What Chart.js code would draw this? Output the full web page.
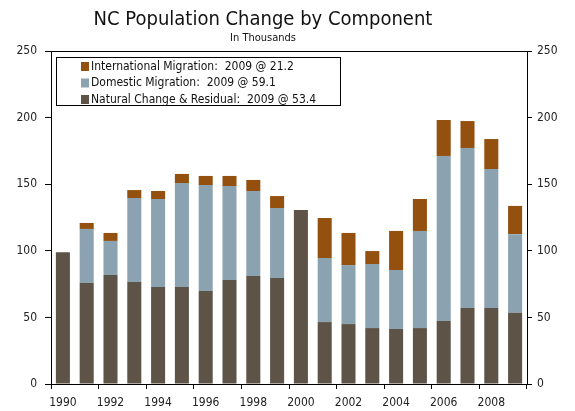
<!DOCTYPE html>
<html lang="en">
<head>
    <meta charset="UTF-8">
    <title>NC Population Change by Component</title>
    <script src="https://cdn.jsdelivr.net/npm/chart.js"></script>
    <style>
        html, body { margin: 0; padding: 0; background: #fff; }
        #wrap { width: 575px; height: 411px; }
    </style>
</head>
<body>
    <div id="wrap"><canvas id="popChart" width="575" height="411"></canvas></div>

    <script>
        // Datos (miles de personas)
        const years = ['1990','1991','1992','1993','1994','1995','1996','1997','1998','1999',
                       '2000','2001','2002','2003','2004','2005','2006','2007','2008','2009'];
        const natural = [99.0, 75.8, 81.8, 76.6, 72.8, 72.8, 69.8, 78.1, 81.1, 79.6,
                         130.6, 46.5, 45.0, 42.0, 41.3, 42.0, 47.3, 57.1, 57.1, 53.4];
        const domestic = [0, 40.6, 25.6, 63.0, 66.1, 78.1, 79.6, 70.5, 63.8, 52.5,
                          0, 48.1, 44.3, 48.1, 44.3, 72.9, 123.9, 120.1, 104.3, 59.1];
        const intl = [0, 4.5, 6.0, 6.0, 6.0, 6.8, 6.8, 7.6, 8.3, 9.0,
                      0, 30.0, 24.1, 9.7, 29.3, 24.0, 27.0, 20.2, 22.5, 21.2];
        const yTicks = [0, 50, 100, 150, 200, 250];

        const FONT = '"DejaVu Sans Condensed", "DejaVu Sans", sans-serif';
        const last = years.length - 1;

        // titulo, marco y leyenda dibujados a mano
        const extras = {
            id: 'extras',
            afterDraw(chart) {
                const c = chart.ctx;
                const a = chart.chartArea;
                c.save();
                c.fillStyle = '#111';
                c.textAlign = 'center';
                c.textBaseline = 'alphabetic';
                c.font = '20px ' + FONT;
                c.fillText('NC Population Change by Component', 263, 25);
                c.font = '11px ' + FONT;
                c.fillText('In Thousands', 263, 40.5);

                c.strokeStyle = '#000';
                c.lineWidth = 1;
                c.strokeRect(Math.round(a.left) + 0.5, Math.round(a.top) + 0.5,
                             Math.round(a.right - a.left), Math.round(a.bottom - a.top));

                // leyenda
                c.fillStyle = '#fff';
                c.fillRect(56.5, 57.5, 284, 48);
                c.strokeRect(56.5, 57.5, 284, 48);
                c.font = '12px ' + FONT;
                c.textAlign = 'left';
                c.textBaseline = 'middle';
                const ds = chart.data.datasets.slice().reverse();
                ds.forEach((d, i) => {
                    const y = 66.5 + i * 16.5;
                    c.fillStyle = d.backgroundColor;
                    c.fillRect(81, y - 4.5, 8, 9);
                    c.fillStyle = '#111';
                    c.fillText(d.label, 91, y);
                });
                c.restore();
            }
        };

        const axisFont = { family: FONT, size: 12 };

        new Chart(document.getElementById('popChart'), {
            type: 'bar',
            data: {
                labels: years,
                datasets: [
                    { label: 'Natural Change & Residual:  ' + years[last] + ' @ ' + natural[last].toFixed(1),
                      data: natural, backgroundColor: '#5E5347' },
                    { label: 'Domestic Migration:  ' + years[last] + ' @ ' + domestic[last].toFixed(1),
                      data: domestic, backgroundColor: '#8BA2B1' },
                    { label: 'International Migration:  ' + years[last] + ' @ ' + intl[last].toFixed(1),
                      data: intl, backgroundColor: '#93500F' }
                ]
            },
            options: {
                responsive: false,
                animation: false,
                layout: { padding: { top: 51, left: 0, right: 0, bottom: 0 } },
                datasets: { bar: { categoryPercentage: 1, barPercentage: 0.59 } },
                plugins: { legend: { display: false }, title: { display: false }, tooltip: { enabled: false } },
                scales: {
                    x: {
                        stacked: true,
                        offset: true,
                        grid: {
                            offset: true,
                            drawOnChartArea: false,
                            tickLength: 5,
                            tickColor: ctx => (ctx.index === undefined || ctx.index % 2 === 0) ? '#000' : 'rgba(0,0,0,0)'
                        },
                        border: { color: '#000' },
                        ticks: {
                            autoSkip: false,
                            maxRotation: 0,
                            padding: 7,
                            color: '#222',
                            font: axisFont,
                            callback: (v, i) => i % 2 === 0 ? years[i] : ''
                        },
                        afterFit: s => { s.height = 27; }
                    },
                    y: {
                        stacked: true,
                        position: 'left',
                        min: 0, max: 250,
                        afterBuildTicks: s => { s.ticks = yTicks.map(v => ({ value: v })); },
                        grid: { drawOnChartArea: false, tickLength: 6, tickColor: '#000' },
                        border: { color: '#000' },
                        ticks: { padding: 8, color: '#222', font: axisFont },
                        afterFit: s => { s.width = 51; }
                    },
                    y2: {
                        position: 'right',
                        min: 0, max: 250,
                        afterBuildTicks: s => { s.ticks = yTicks.map(v => ({ value: v })); },
                        grid: { drawOnChartArea: false, tickLength: 5, tickColor: '#000' },
                        border: { color: '#000' },
                        ticks: { padding: 5, color: '#222', font: axisFont },
                        afterFit: s => { s.width = 48; }
                    }
                }
            },
            plugins: [extras]
        });
    </script>
</body>
</html>
